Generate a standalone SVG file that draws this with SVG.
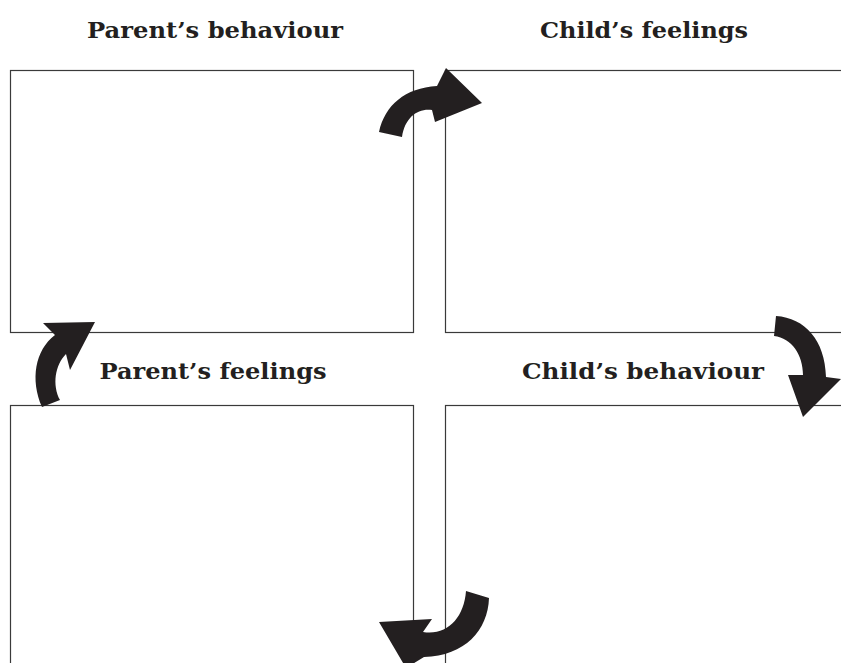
<svg xmlns="http://www.w3.org/2000/svg" width="841" height="663" viewBox="0 0 841 663">
  <style>
    .box { fill: #ffffff; stroke: #3a3a3a; stroke-width: 1.2; }
    .title { font-family: "DejaVu Serif", "Liberation Serif", serif; font-weight: bold; font-size: 23px; fill: #231f20; text-anchor: middle; }
    .arrow { fill: #231f20; stroke: none; }
  </style>
  <rect width="841" height="663" fill="#ffffff"/>

  <g id="parent-behaviour">
    <text class="title" x="215" y="38" textLength="256" lengthAdjust="spacingAndGlyphs">Parent’s behaviour</text>
    <rect class="box" x="10.5" y="70.5" width="403" height="262"/>
  </g>

  <g id="child-feelings">
    <text class="title" x="644" y="38" textLength="208" lengthAdjust="spacingAndGlyphs">Child’s feelings</text>
    <rect class="box" x="445.5" y="70.5" width="410" height="262"/>
  </g>

  <g id="parent-feelings">
    <text class="title" x="213" y="379" textLength="227" lengthAdjust="spacingAndGlyphs">Parent’s feelings</text>
    <rect class="box" x="10.5" y="405.5" width="403" height="275"/>
  </g>

  <g id="child-behaviour">
    <text class="title" x="643" y="379" textLength="242" lengthAdjust="spacingAndGlyphs">Child’s behaviour</text>
    <rect class="box" x="445.5" y="405.5" width="410" height="275"/>
  </g>

  <g id="connectors">
    <!-- parent's behaviour -> child's feelings -->
    <path class="arrow" d="M 379,132 C 385,105 405,88 437,86 L 446,68 L 482,103 L 435,122 L 432,110 C 418,108 405,117 402,137 Z"/>
    <!-- child's feelings -> child's behaviour -->
    <path class="arrow" d="M 776,316 C 805,318 825,340 826,377 L 841,379 L 803,417 L 788,375 L 803,375 C 803,355 792,338 774,336 Z"/>
    <!-- child's behaviour -> parent's feelings -->
    <path class="arrow" d="M 466,591 L 489,598 C 488,630 465,656 424,657 L 406,668 L 379,622 L 432,619 L 423,632 C 447,636 464,618 466,591 Z"/>
    <!-- parent's feelings -> parent's behaviour -->
    <path class="arrow" d="M 42,407 C 30,380 35,350 55,335 L 43,323 L 95,322 L 70,370 L 66,354 C 55,365 52,385 60,400 Z"/>
  </g>
</svg>
